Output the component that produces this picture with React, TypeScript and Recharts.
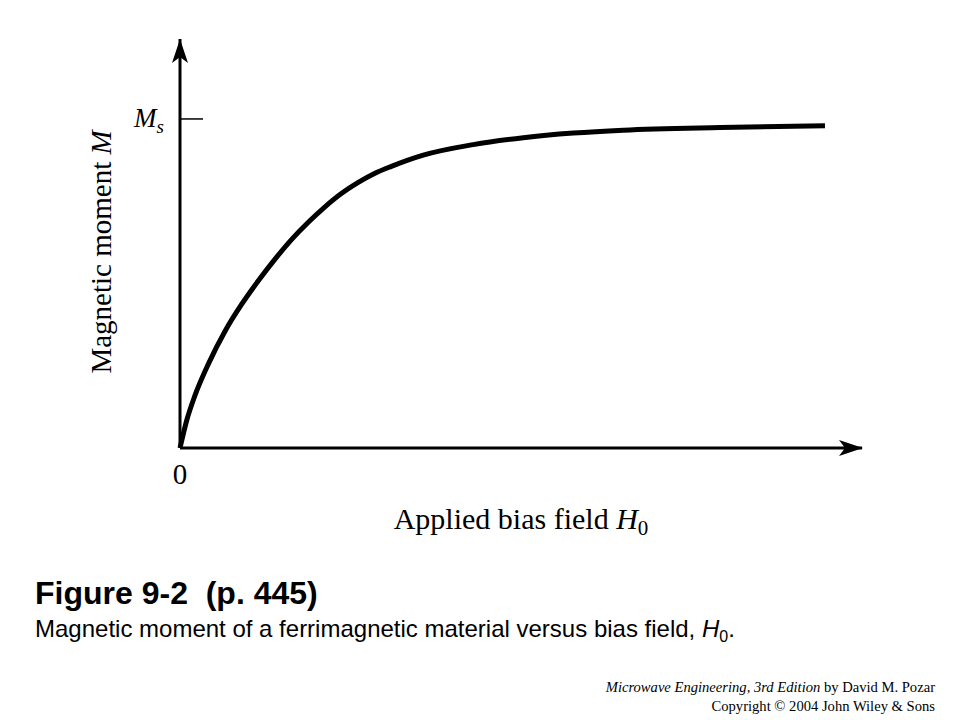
// Magnetization curve of a ferrimagnetic material, M vs applied bias field H0.
// Drawn with Recharts; the axes carry barbed arrowheads and the only tick
// on the M axis is the saturation level Ms.

import { LineChart, Line, XAxis, YAxis, ReferenceDot } from 'recharts'

// ── Data ─────────────────────────────────────────────────────────────────────
// H in arbitrary units (axis runs 0..10), M as a fraction of Ms.
const H_FIELD = [
  0, 0.1, 0.22, 0.415, 0.66, 0.905, 1.148, 1.393, 1.638, 1.881, 2.126,
  2.371, 2.614, 2.859, 3.1, 3.567, 4.3, 5.034, 5.767, 6.5, 7.918, 9.457,
]
const MOMENT = [
  0, 0.085, 0.16, 0.255, 0.355, 0.437, 0.508, 0.574, 0.634, 0.686, 0.733,
  0.774, 0.807, 0.835, 0.856, 0.89, 0.922, 0.943, 0.957, 0.966, 0.974, 0.979,
]
const X_DOMAIN = [0, 10]
const Y_DOMAIN = [0, 1.243]
const X_TICKS = [0]
const Y_TICKS = [1] // Ms

const X_TICK_LABEL = '0'
const Y_TICK_LABEL = 'M'
const Y_TICK_SUB = 's'
const X_TITLE = 'Applied bias field '
const X_TITLE_VAR = 'H'
const X_TITLE_SUB = '0'
const Y_TITLE = 'Magnetic moment '
const Y_TITLE_VAR = 'M'

const FIG_TITLE = 'Figure 9-2  (p. 445)'
const FIG_CAPTION = 'Magnetic moment of a ferrimagnetic material versus bias field, '
const FOOT_BOOK = 'Microwave Engineering, 3rd Edition'
const FOOT_AUTHOR = ' by David M. Pozar'
const FOOT_COPY = 'Copyright \u00A9 2004 John Wiley & Sons'

const chartData = H_FIELD.map((h, i) => ({ h, m: MOMENT[i] }))

// ── Styling ──────────────────────────────────────────────────────────────────
const SERIF = '"Liberation Serif", "Times New Roman", serif'
const SANS = '"Liberation Sans", Arial, sans-serif'
const INK = '#000'

// ── Custom ticks ──────────────────────────────────────────────────────────────
// Ms: short tick pointing into the plot, label to the left of the axis
function YTick({ y }: any) {
  return (
    <g>
      <line x1={180} y1={y} x2={203} y2={y} stroke={INK} strokeWidth={1.5} />
      <text x={134} y={y + 8} fontFamily={SERIF} fontStyle="italic" fontSize={27} fill={INK}>
        {Y_TICK_LABEL}
        <tspan fontSize={19} dy={6}>{Y_TICK_SUB}</tspan>
      </text>
    </g>
  )
}

function XTick({ x, y }: any) {
  return (
    <text x={x} y={y + 28} textAnchor="middle" fontFamily={SERIF} fontSize={29} fill={INK}>
      {X_TICK_LABEL}
    </text>
  )
}

// ── Arrowheads ───────────────────────────────────────────────────────────────
function ArrowRight({ cx, cy }: any) {
  return (
    <path
      d={`M${cx + 1},${cy} L${cx - 23},${cy - 8} L${cx - 17},${cy} L${cx - 23},${cy + 8} Z`}
      fill={INK}
    />
  )
}

function ArrowUp({ cx, cy }: any) {
  return (
    <path
      d={`M${cx},${cy} L${cx - 8},${cy + 24} L${cx},${cy + 18} L${cx + 8},${cy + 24} Z`}
      fill={INK}
    />
  )
}

// ── Axis titles ──────────────────────────────────────────────────────────────
function XTitle({ viewBox }: any) {
  const cx = viewBox.x + 341
  return (
    <text x={cx} y={529} textAnchor="middle" fontFamily={SERIF} fontSize={30} fill={INK}>
      {X_TITLE}
      <tspan fontStyle="italic">{X_TITLE_VAR}</tspan>
      <tspan fontSize={21} dy={6}>{X_TITLE_SUB}</tspan>
    </text>
  )
}

function YTitle() {
  return (
    <text
      x={0}
      y={0}
      transform="translate(111, 252) rotate(-90)"
      textAnchor="middle"
      fontFamily={SERIF}
      fontSize={29}
      fill={INK}
    >
      {Y_TITLE}
      <tspan fontStyle="italic">{Y_TITLE_VAR}</tspan>
    </text>
  )
}

// ─────────────────────────────────────────────────────────────────────────────
export default function App() {
  return (
    <div style={{ position: 'absolute', left: 0, top: 0, width: 960, height: 720, background: '#fff' }}>
      <LineChart
        width={960}
        height={560}
        data={chartData}
        margin={{ top: 39, right: 98, left: 0, bottom: 0 }}
      >
        <XAxis
          dataKey="h"
          type="number"
          domain={X_DOMAIN}
          ticks={X_TICKS}
          tick={<XTick />}
          tickLine={false}
          axisLine={{ stroke: INK, strokeWidth: 3 }}
          height={112}
          label={<XTitle />}
        />
        <YAxis
          type="number"
          domain={Y_DOMAIN}
          ticks={Y_TICKS}
          tick={<YTick />}
          tickLine={false}
          axisLine={{ stroke: INK, strokeWidth: 3 }}
          width={180}
          label={<YTitle />}
        />

        {/* arrowheads at the ends of both axes */}
        <ReferenceDot x={X_DOMAIN[1]} y={0} ifOverflow="visible" shape={<ArrowRight />} />
        <ReferenceDot x={0} y={Y_DOMAIN[1]} ifOverflow="visible" shape={<ArrowUp />} />

        <Line
          type="monotone"
          dataKey="m"
          stroke={INK}
          strokeWidth={5}
          dot={false}
          isAnimationActive={false}
        />
      </LineChart>

      {/* ── Figure caption and credits ───────────────────────────────────── */}
      <svg width={960} height={160} style={{ position: 'absolute', left: 0, top: 560 }}>
        <text
          x={35}
          y={44}
          fontFamily={SANS}
          fontWeight="bold"
          fontSize={32}
          fill={INK}
          style={{ whiteSpace: 'pre' }}
        >
          {FIG_TITLE}
        </text>
        <text x={35} y={77} fontFamily={SANS} fontSize={24} fill={INK}>
          {FIG_CAPTION}
          <tspan fontStyle="italic">H</tspan>
          <tspan fontSize={16} dy={5}>0</tspan>
          <tspan dy={-5}>.</tspan>
        </text>
        <text x={935} y={132} textAnchor="end" fontFamily={SERIF} fontSize={14.6} fill={INK}>
          <tspan fontStyle="italic">{FOOT_BOOK}</tspan>
          {FOOT_AUTHOR}
        </text>
        <text x={935} y={151} textAnchor="end" fontFamily={SERIF} fontSize={14.6} fill={INK}>
          {FOOT_COPY}
        </text>
      </svg>
    </div>
  )
}
